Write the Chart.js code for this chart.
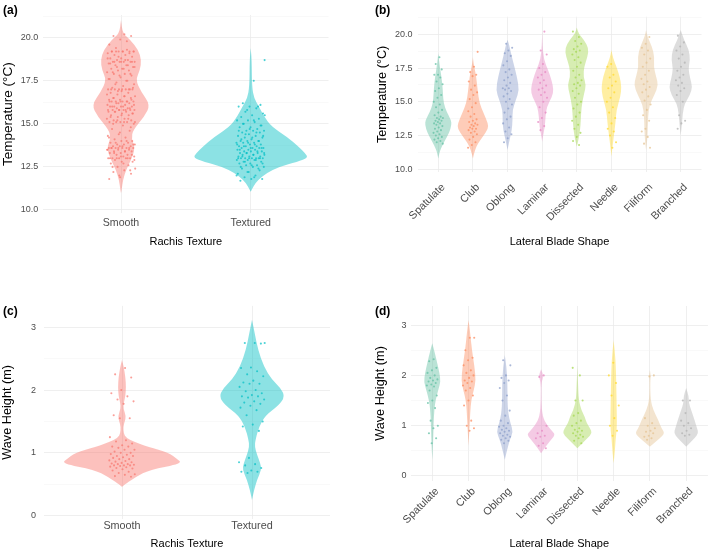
<!DOCTYPE html>
<html>
<head>
<meta charset="utf-8">
<script src="https://cdn.jsdelivr.net/npm/chart.js@4.4.1/dist/chart.umd.min.js"></script>
<style>
  body { margin: 0; background: #fff; width: 709px; height: 552px; position: relative; overflow: hidden; }
  .panel { position: absolute; }
  .tag { position: absolute; font: bold 12px "Liberation Sans", Arial, sans-serif; line-height: 12px; color: #000; }
</style>
</head>
<body>
<div class="panel" style="left:0;top:0"><canvas id="chartA" width="354" height="276"></canvas></div>
<div class="panel" style="left:354px;top:0"><canvas id="chartB" width="355" height="276"></canvas></div>
<div class="panel" style="left:0;top:276px"><canvas id="chartC" width="354" height="276"></canvas></div>
<div class="panel" style="left:354px;top:276px"><canvas id="chartD" width="355" height="276"></canvas></div>
<div class="tag" style="left:3px;top:4px">(a)</div>
<div class="tag" style="left:375px;top:4px">(b)</div>
<div class="tag" style="left:3px;top:305px">(c)</div>
<div class="tag" style="left:375px;top:305px">(d)</div>
<script>
// categories and axis ticks
const rachisCats = ["Smooth", "Textured"];
const bladeCats = ["Spatulate", "Club", "Oblong", "Laminar", "Dissected", "Needle", "Filiform", "Branched"];
const tempMajor = [10, 12.5, 15, 17.5, 20];
const tempMinor = [11.25, 13.75, 16.25, 18.75, 21.25];
const waveMajor = [0, 1, 2, 3];
const waveMinor = [0.5, 1.5, 2.5];

const rachisColors = ["#F8766D", "#00BFC4"];
const bladeColors = ["#66C2A5", "#FC8D62", "#8DA0CB", "#E78AC3", "#A6D854", "#FFD92F", "#E5C494", "#B3B3B3"];

// violin outlines: [value, half width in category units], top to bottom
const violinTempSmooth = [[21.03,0],[20.26,0.013],[19.87,0.072],[19.29,0.134],[18.7,0.157],[18.13,0.147],[17.55,0.113],[16.87,0.154],[16.1,0.226],[15.42,0.18],[14.64,0.093],[14.16,0.08],[13.58,0.11],[12.9,0.077],[12.32,0.039],[11.74,0.015],[11.16,0.005],[10.97,0]];
const violinTempTextured = [[19.4,0],[18.7,0.008],[17.16,0.01],[16.48,0.026],[16.0,0.064],[15.42,0.103],[14.84,0.16],[14.25,0.28],[13.67,0.37],[13.29,0.42],[13.04,0.443],[12.8,0.36],[12.51,0.22],[12.13,0.12],[11.74,0.055],[11.35,0.02],[11.06,0]];

const violinTempSpatulate = [[18.59,0],[17.85,0.03],[17.1,0.077],[16.37,0.115],[15.63,0.135],[14.89,0.154],[14.27,0.24],[13.65,0.366],[13.28,0.385],[12.66,0.308],[12.05,0.173],[11.55,0.077],[11.18,0.03],[10.8,0]];
const violinTempClub = [[18.3,0],[17.85,0.02],[17.48,0.048],[16.86,0.096],[15.87,0.135],[14.89,0.19],[14.15,0.31],[13.4,0.433],[13.03,0.443],[12.42,0.29],[11.92,0.144],[11.43,0.058],[10.8,0]];
const violinTempOblong = [[19.6,0],[19.2,0.05],[18.83,0.077],[17.85,0.173],[16.86,0.27],[15.87,0.337],[15.13,0.24],[14.4,0.144],[13.65,0.144],[12.91,0.125],[12.17,0.058],[11.68,0.02],[11.43,0]];
const violinTempLaminar = [[20.3,0],[19.2,0.01],[18.1,0.048],[17.35,0.173],[16.61,0.27],[15.9,0.33],[15.4,0.29],[14.65,0.135],[13.9,0.096],[13.16,0.077],[12.54,0.03],[12.05,0]];
const violinTempDissected = [[20.5,0],[20.07,0.048],[19.58,0.21],[18.96,0.345],[18.34,0.31],[17.6,0.21],[16.86,0.19],[16.24,0.27],[15.63,0.21],[14.64,0.135],[13.65,0.115],[12.91,0.096],[12.17,0.048],[11.68,0]];
const violinTempNeedle = [[18.83,0],[18.22,0.048],[17.6,0.144],[16.86,0.24],[16.12,0.29],[15.38,0.26],[14.4,0.144],[13.4,0.115],[12.42,0.067],[11.68,0.03],[10.94,0]];
const violinTempFiliform = [[20.32,0],[19.83,0.038],[19.08,0.173],[18.34,0.24],[17.6,0.22],[16.86,0.29],[16.24,0.356],[15.5,0.24],[14.76,0.096],[13.9,0.058],[12.91,0.048],[12.05,0.03],[11.43,0]];
const violinTempBranched = [[20.32,0],[19.58,0.096],[18.83,0.24],[18.1,0.27],[17.48,0.22],[16.74,0.27],[16.12,0.337],[15.5,0.27],[14.89,0.115],[14.15,0.058],[13.16,0.03],[12.54,0]];

const violinWaveSmooth = [[2.48,0],[2.37,0.013],[2.21,0.026],[2.05,0.031],[1.9,0.026],[1.79,0.013],[1.71,0.01],[1.58,0.031],[1.5,0.021],[1.42,0.01],[1.31,0.013],[1.24,0.03],[1.17,0.1],[1.1,0.2],[1.0,0.36],[0.91,0.42],[0.83,0.465],[0.73,0.21],[0.62,0.11],[0.51,0.03],[0.46,0]];
const violinWaveTextured = [[3.12,0],[2.9,0.021],[2.64,0.047],[2.37,0.091],[2.16,0.156],[2.03,0.22],[1.9,0.253],[1.76,0.208],[1.6,0.104],[1.41,0.052],[1.2,0.026],[1.1,0.021],[0.97,0.039],[0.83,0.065],[0.73,0.073],[0.57,0.039],[0.41,0.016],[0.25,0]];

const violinWaveSpatulate = [[2.64,0],[2.44,0.073],[2.24,0.138],[2.04,0.2],[1.88,0.23],[1.71,0.165],[1.51,0.092],[1.31,0.055],[1.05,0.037],[0.78,0.028],[0.58,0.018],[0.32,0]];
const violinWaveClub = [[3.1,0],[2.84,0.046],[2.51,0.092],[2.17,0.165],[1.91,0.2],[1.71,0.147],[1.51,0.073],[1.25,0.046],[0.98,0.028],[0.85,0.018],[0.6,0]];
const violinWaveOblong = [[2.4,0],[2.17,0.046],[1.84,0.073],[1.51,0.073],[1.25,0.092],[1.05,0.156],[0.88,0.23],[0.72,0.138],[0.52,0.064],[0.32,0]];
const violinWaveLaminar = [[2.12,0],[1.98,0.075],[1.88,0.01],[1.5,0.008],[1.18,0.037],[1.01,0.165],[0.88,0.32],[0.82,0.39],[0.68,0.23],[0.55,0.092],[0.45,0]];
const violinWaveDissected = [[2.2,0],[1.84,0.018],[1.51,0.037],[1.31,0.11],[1.18,0.2],[1.05,0.26],[0.95,0.35],[0.85,0.41],[0.75,0.275],[0.65,0.138],[0.55,0]];
const violinWaveNeedle = [[2.7,0],[2.3,0.055],[1.84,0.073],[1.38,0.083],[0.98,0.092],[0.72,0.055],[0.45,0.028],[0.25,0]];
const violinWaveFiliform = [[2.1,0],[1.98,0.028],[1.88,0.008],[1.51,0.018],[1.31,0.092],[1.11,0.23],[0.95,0.32],[0.85,0.41],[0.75,0.275],[0.65,0.11],[0.58,0]];
const violinWaveBranched = [[1.75,0],[1.58,0.073],[1.45,0.073],[1.31,0.138],[1.11,0.23],[0.95,0.3],[0.85,0.34],[0.75,0.23],[0.65,0.092],[0.58,0]];

// observations (jittered points)
const tempSmooth = [20.2,20.1,20.1,19.9,19.6,19.3,19.2,19.2,19.2,19.2,19.2,19.2,19.1,19.0,19.0,18.9,18.8,18.8,18.7,18.7,18.6,18.6,18.6,18.6,18.6,18.5,18.4,18.4,18.3,18.2,18.2,18.1,18.1,18.0,17.9,17.9,17.8,17.7,17.6,17.5,17.4,17.3,17.2,17.1,17.0,17.0,17.0,17.0,17.0,17.0,16.9,16.8,16.8,16.7,16.6,16.6,16.5,16.5,16.4,16.4,16.3,16.3,16.3,16.3,16.3,16.2,16.2,16.1,16.1,16.0,16.0,16.0,16.0,15.9,15.9,15.8,15.8,15.8,15.8,15.8,15.7,15.7,15.7,15.6,15.6,15.5,15.5,15.4,15.3,15.3,15.2,15.2,15.1,15.1,15.1,15.1,15.0,14.9,14.7,14.6,14.4,14.3,14.2,14.1,14.0,14.0,13.9,13.9,13.8,13.8,13.8,13.7,13.7,13.7,13.6,13.6,13.6,13.6,13.6,13.6,13.5,13.5,13.5,13.4,13.4,13.4,13.3,13.3,13.2,13.2,13.1,13.1,13.0,13.0,13.0,13.0,13.0,12.9,12.8,12.8,12.7,12.6,12.5,12.4,12.3,12.2,12.1,11.9,11.8,
  19.8,19.4,19.2,19.2,19.2,19.1,18.9,18.8,18.7,18.6,18.6,18.6,18.5,18.4,18.3,18.3,18.2,18.0,17.9,17.8,17.6,17.5,17.3,17.1,17.0,17.0,17.0,16.9,16.7,16.6,16.5,16.4,16.3,16.3,16.3,16.2,16.1,16.0,16.0,15.9,15.8,15.8,15.8,15.7,15.6,15.5,15.4,15.3,15.2,15.1,15.1,15.0,14.8,14.5,14.2,14.0,13.9,13.8,13.7,13.6,13.6,13.6,13.5,13.4,13.3,13.2,13.1,13.0,13.0,13.0,12.9,12.7,12.5,12.3,12.0];
const tempTextured = [18.7,17.5,16.2,16.1,16.0,16.0,15.9,15.7,15.6,15.5,15.4,15.3,15.2,15.2,15.1,15.0,14.9,14.8,14.8,14.7,14.6,14.6,14.6,14.5,14.5,14.4,14.3,14.3,14.2,14.2,14.1,14.0,14.0,14.0,13.9,13.9,13.9,13.8,13.8,13.7,13.7,13.7,13.6,13.6,13.6,13.6,13.5,13.5,13.5,13.4,13.4,13.4,13.3,13.3,13.3,13.2,13.2,13.2,13.1,13.1,13.1,13.0,13.0,13.0,13.0,13.0,13.0,12.9,12.9,12.9,12.8,12.8,12.7,12.7,12.6,12.6,12.5,12.5,12.4,12.3,12.2,12.1,12.0,11.9,11.8,11.8,11.7,
  16.0,15.8,15.5,15.2,15.0,14.9,14.7,14.6,14.5,14.4,14.3,14.2,14.1,14.0,13.9,13.8,13.8,13.7,13.6,13.6,13.5,13.4,13.3,13.3,13.2,13.1,13.0,13.0,13.0,12.9,12.8,12.7,12.6,12.5,12.4,12.2,12.0,11.9];

const tempSpatulate = [18.3,17.8,17.4,17.0,17.0,16.8,16.5,16.3,16.0,15.8,15.5,15.3,15.0,14.8,14.6,14.4,14.2,14.0,13.9,13.8,13.8,13.7,13.6,13.6,13.5,13.4,13.4,13.3,13.2,13.1,13.0,12.9,12.8,12.7,12.6,12.5,12.4,12.3,12.2,12.1,12.0,11.9];
const tempClub = [18.7,17.6,17.2,17.0,16.9,16.5,16.2,15.9,15.7,15.5,15.2,14.9,14.6,14.3,14.1,13.9,13.7,13.6,13.5,13.4,13.3,13.3,13.2,13.1,13.0,13.0,12.9,12.8,12.7,12.6,12.4,12.2,12.0,11.8,11.6];
const tempOblong = [19.3,19.0,18.8,18.6,18.4,18.0,17.7,17.4,17.2,17.0,16.8,16.6,16.4,16.2,16.0,16.0,15.9,15.8,15.6,15.4,15.2,15.0,14.8,14.5,14.2,13.9,13.7,13.4,13.1,12.8,12.6,12.3,12.0];
const tempLaminar = [20.2,18.8,18.5,17.8,17.5,17.2,17.0,16.8,16.6,16.4,16.2,16.0,15.9,15.7,15.5,15.3,15.0,14.6,14.2,13.8,13.5,13.2,12.9];
const tempDissected = [20.2,19.8,19.5,19.3,19.1,18.9,18.8,18.7,18.5,18.3,18.1,17.9,17.6,17.3,17.0,16.8,16.6,16.4,16.3,16.2,16.0,15.8,15.6,15.3,15.0,14.8,14.5,14.2,13.9,13.6,13.3,13.0,12.7,12.4,12.1,11.8];
const tempNeedle = [17.8,17.6,17.0,16.8,16.5,16.2,16.0,15.7,15.3,15.0,14.6,14.2,13.8,13.4,13.0,12.8,12.5,12.0,11.6];
const tempFiliform = [19.8,19.3,19.0,18.8,18.5,18.2,17.9,17.6,17.3,17.0,16.7,16.5,16.3,16.1,15.9,15.7,15.4,15.1,14.8,14.4,14.0,13.6,13.0,12.8,12.4,11.9,11.6];
const tempBranched = [19.9,19.4,19.1,18.8,18.5,18.2,17.9,17.6,17.3,17.0,16.8,16.6,16.4,16.2,16.0,15.8,15.5,15.0,14.0,13.6,13.4,13.0];

const waveSmooth = [2.35,2.25,2.2,2.0,1.95,1.9,1.85,1.82,1.78,1.6,1.55,1.55,1.25,1.2,1.18,1.15,1.12,1.1,1.1,1.08,1.05,1.05,1.02,1.0,1.0,0.98,0.97,0.95,0.95,0.93,0.92,0.9,0.9,0.88,0.87,0.86,0.85,0.84,0.83,0.82,0.82,0.81,0.8,0.8,0.8,0.79,0.78,0.77,0.76,0.75,0.74,0.72,0.7,0.68,0.66,0.65,0.63,0.62];
const waveTextured = [2.75,2.75,2.75,2.74,2.36,2.35,2.3,2.25,2.22,2.15,2.12,2.1,2.1,2.05,2.0,1.98,1.95,1.92,1.9,1.9,1.88,1.85,1.82,1.8,1.78,1.75,1.72,1.68,1.6,1.5,1.45,1.42,1.35,0.92,0.85,0.82,0.8,0.76,0.72,0.7,0.7,0.68];

const waveSpatulate = [2.32,2.28,2.15,2.1,2.05,2.0,1.95,1.92,1.9,1.88,1.85,1.82,1.8,1.78,1.7,1.6,1.5,1.45,1.35,1.1,1.0,0.95,0.85,0.75,0.65];
const waveClub = [2.75,2.75,2.5,2.35,2.3,2.2,2.1,2.05,2.0,1.95,1.9,1.88,1.85,1.8,1.75,1.7,1.6,1.5,1.4,1.1,1.0,0.95,0.9];
const waveOblong = [2.3,2.2,2.0,1.95,1.9,1.85,1.75,1.6,1.5,1.3,1.2,1.1,1.05,1.0,0.98,0.95,0.92,0.9,0.88,0.85,0.82,0.8,0.78,0.75,0.72,0.7,0.65];
const waveLaminar = [2.0,1.97,1.0,0.9,0.85,0.8,0.78,0.75,0.65,0.6,0.55];
const waveDissected = [2.15,2.0,1.5,1.5,1.25,1.2,1.1,1.05,1.0,0.95,0.92,0.9,0.88,0.85,0.82,0.8,0.78,0.75,0.7,0.65];
const waveNeedle = [2.25,2.0,1.85,1.6,1.4,1.15,1.0,0.9,0.8];
const waveFiliform = [2.0,1.98,1.15,1.05,1.0,0.95,0.9,0.88,0.85,0.8,0.78,0.75,0.72];
const waveBranched = [1.5,1.5,1.25,1.1,1.05,1.0,0.95,0.9,0.85,0.82,0.8];

Chart.defaults.font.family = '"Liberation Sans", Arial, Helvetica, sans-serif';

function rgba(hex, a) {
  const n = parseInt(hex.slice(1), 16);
  return `rgba(${(n >> 16) & 255},${(n >> 8) & 255},${n & 255},${a})`;
}

// spread of points around the category centre, -1..1
function spread(k, i) {
  return (((k + 1) * 0.618034 + i * 0.37) % 1) * 2 - 1;
}

function violinLayer(cfg) {
  return {
    id: "violins",
    beforeDatasetsDraw(chart) {
      const { ctx, scales: { x, y } } = chart;
      ctx.save();
      cfg.violins.forEach((profile, i) => {
        const c = i + 1;
        const ring = profile
          .map(([v, w]) => [x.getPixelForValue(c + w), y.getPixelForValue(v)])
          .concat(profile.slice().reverse().map(([v, w]) => [x.getPixelForValue(c - w), y.getPixelForValue(v)]));
        const n = ring.length;
        const mid = (p, q) => [(p[0] + q[0]) / 2, (p[1] + q[1]) / 2];
        const start = mid(ring[n - 1], ring[0]);
        ctx.beginPath();
        ctx.moveTo(start[0], start[1]);
        for (let k = 0; k < n; k++) {
          const p = ring[k];
          const q = mid(p, ring[(k + 1) % n]);
          ctx.quadraticCurveTo(p[0], p[1], q[0], q[1]);
        }
        ctx.closePath();
        ctx.fillStyle = rgba(cfg.colors[i], cfg.fillAlpha);
        ctx.fill();
      });
      ctx.restore();
    },
  };
}

function buildPanel(cfg) {
  const n = cfg.cats.length;
  const isMajor = (v) => cfg.majors.some((m) => Math.abs(m - v) < 1e-6);
  const yTicks = cfg.majors.concat(cfg.minors).sort((a, b) => a - b);
  return new Chart(document.getElementById(cfg.id), {
    type: "scatter",
    data: {
      datasets: cfg.cats.map((c, i) => ({
        label: c,
        data: cfg.points[i].map((v, k) => ({ x: i + 1 + spread(k, i) * cfg.jitter, y: v })),
        pointRadius: 1.05,
        pointHoverRadius: 1.05,
        pointBorderWidth: 0,
        pointBackgroundColor: rgba(cfg.colors[i], cfg.pointAlpha),
      })),
    },
    options: {
      responsive: false,
      animation: false,
      events: [],
      layout: { padding: cfg.pad },
      plugins: { legend: { display: false }, tooltip: { enabled: false } },
      scales: {
        x: {
          type: "linear",
          min: 0.4,
          max: n + 0.6,
          afterBuildTicks: (axis) => { axis.ticks = cfg.cats.map((c, i) => ({ value: i + 1 })); },
          afterFit: (axis) => { axis.height = cfg.xH; },
          ticks: {
            callback: (v) => cfg.cats[Math.round(v) - 1],
            autoSkip: false,
            minRotation: cfg.rotate,
            maxRotation: cfg.rotate,
            padding: cfg.xPad,
            labelOffset: cfg.xShift,
            color: "#4D4D4D",
            font: { size: cfg.xFont },
          },
          grid: { color: "#EBEBEB", lineWidth: 0.8, drawTicks: false },
          border: { display: false },
          title: { display: true, text: cfg.xTitle, color: "#000", font: { size: 11 }, padding: 0 },
        },
        y: {
          min: cfg.yMin,
          max: cfg.yMax,
          afterBuildTicks: (axis) => { axis.ticks = yTicks.map((v) => ({ value: v })); },
          afterFit: (axis) => { axis.width = cfg.yW; },
          ticks: {
            callback: (v) => (isMajor(v) ? cfg.fmt(v) : ""),
            padding: cfg.yPad,
            color: "#4D4D4D",
            font: { size: 9 },
          },
          grid: {
            color: (ctx) => (ctx.tick && isMajor(ctx.tick.value) ? "#EBEBEB" : "#F3F3F3"),
            lineWidth: (ctx) => (ctx.tick && isMajor(ctx.tick.value) ? 0.8 : 0.5),
            drawTicks: false,
          },
          border: { display: false },
          title: { display: true, text: cfg.yTitle, color: "#000", font: { size: cfg.yTitleSize }, padding: 0 },
        },
      },
    },
    plugins: [violinLayer(cfg)],
  });
}

const tempFmt = (v) => v.toFixed(1);
const waveFmt = (v) => String(v);

buildPanel({
  id: "chartA", cats: rachisCats, colors: rachisColors, fillAlpha: 0.45, pointAlpha: 0.7,
  violins: [violinTempSmooth, violinTempTextured], points: [tempSmooth, tempTextured],
  majors: tempMajor, minors: tempMinor, yMin: 9.8, yMax: 21.32, fmt: tempFmt,
  yTitle: "Temperature (°C)", yTitleSize: 13.5, xTitle: "Rachis Texture",
  pad: { left: 0, top: 15, right: 25.5, bottom: 27.4 }, yW: 43.2, xH: 35.2,
  rotate: 0, xPad: 3, xShift: 0, yPad: 5, xFont: 10.6, jitter: 0.11,
});

buildPanel({
  id: "chartB", cats: bladeCats, colors: bladeColors, fillAlpha: 0.45, pointAlpha: 0.75,
  violins: [violinTempSpatulate, violinTempClub, violinTempOblong, violinTempLaminar, violinTempDissected, violinTempNeedle, violinTempFiliform, violinTempBranched],
  points: [tempSpatulate, tempClub, tempOblong, tempLaminar, tempDissected, tempNeedle, tempFiliform, tempBranched],
  majors: tempMajor, minors: tempMinor, yMin: 9.8, yMax: 21.3, fmt: tempFmt,
  yTitle: "Temperature (°C)", yTitleSize: 12.7, xTitle: "Lateral Blade Shape",
  pad: { left: 20.7, top: 16.75, right: 7.5, bottom: 27.1 }, yW: 42.8, xH: 76.9,
  rotate: 45, xPad: 9, xShift: 5, yPad: 5, xFont: 10.8, jitter: 0.14,
});

buildPanel({
  id: "chartC", cats: rachisCats, colors: rachisColors, fillAlpha: 0.45, pointAlpha: 0.7,
  violins: [violinWaveSmooth, violinWaveTextured], points: [waveSmooth, waveTextured],
  majors: waveMajor, minors: waveMinor, yMin: -0.05, yMax: 3.34, fmt: waveFmt,
  yTitle: "Wave Height (m)", yTitleSize: 12.7, xTitle: "Rachis Texture",
  pad: { left: 0, top: 29.9, right: 24, bottom: 1.1 }, yW: 44, xH: 32.1,
  rotate: 0, xPad: 1, xShift: 0, yPad: 8, xFont: 10.8, jitter: 0.1,
});

buildPanel({
  id: "chartD", cats: bladeCats, colors: bladeColors, fillAlpha: 0.45, pointAlpha: 0.75,
  violins: [violinWaveSpatulate, violinWaveClub, violinWaveOblong, violinWaveLaminar, violinWaveDissected, violinWaveNeedle, violinWaveFiliform, violinWaveBranched],
  points: [waveSpatulate, waveClub, waveOblong, waveLaminar, waveDissected, waveNeedle, waveFiliform, waveBranched],
  majors: waveMajor, minors: waveMinor, yMin: -0.1, yMax: 3.38, fmt: waveFmt,
  yTitle: "Wave Height (m)", yTitleSize: 12.7, xTitle: "Lateral Blade Shape",
  pad: { left: 18.4, top: 30, right: 0.5, bottom: 1.1 }, yW: 38.1, xH: 69.9,
  rotate: 45, xPad: 4, xShift: 5, yPad: 4, xFont: 10.8, jitter: 0.16,
});
</script>
</body>
</html>
